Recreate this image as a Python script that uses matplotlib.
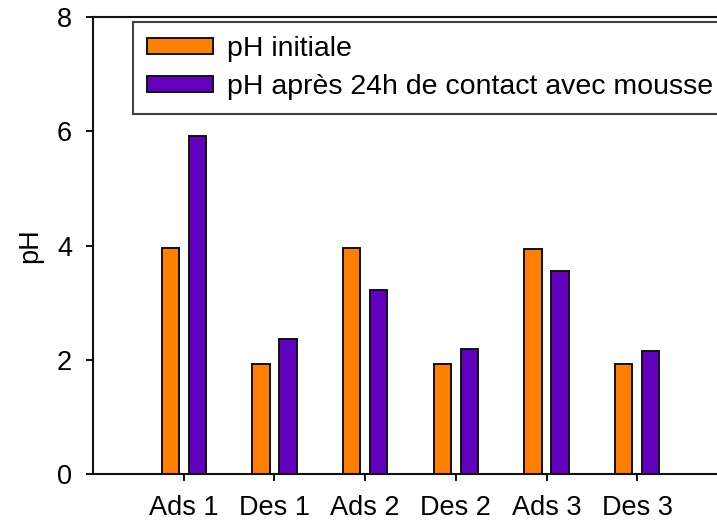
import numpy as np
import matplotlib.pyplot as plt

plt.rcParams['font.family'] = ['Liberation Sans', 'DejaVu Sans']

categories = ['Ads 1', 'Des 1', 'Ads 2', 'Des 2', 'Ads 3', 'Des 3']
ph_initiale = [3.95, 1.93, 3.95, 1.93, 3.94, 1.93]
ph_apres = [5.91, 2.37, 3.23, 2.19, 3.55, 2.16]

x = np.arange(len(categories))
w = 0.19
off = 0.149

fig = plt.figure(figsize=(7.17, 5.29), dpi=100)
# x axis continues past the right edge of the figure (xlim -1..6)
ax = fig.add_axes([93 / 717, (529 - 474.3) / 529, 635 / 717, 457.6 / 529])

ax.bar(x - off, ph_initiale, w, color='#FF8000', edgecolor='#111111', linewidth=1.4,
       label='pH initiale')
ax.bar(x + off, ph_apres, w, color='#6200C0', edgecolor='#111111', linewidth=1.4,
       label='pH après 24h de contact avec mousse')

ax.set_xlim(-1, 6)
ax.set_ylim(0, 8)
ax.set_yticks([0, 2, 4, 6, 8])
ax.set_xticks(x)
ax.set_xticklabels(categories)
ax.set_ylabel('pH', fontsize=19.5, labelpad=10)

ax.tick_params(axis='both', labelsize=19.5, width=1.4, length=5, color='#111111')
ax.tick_params(axis='x', pad=10)
ax.tick_params(axis='y', pad=10)
for s in ax.spines.values():
    s.set_linewidth(1.5)
    s.set_color('#111111')

leg = ax.legend(loc='upper left', bbox_to_anchor=(40 / 635, 1 - 5 / 457.6),
                fontsize=20.5, frameon=True, fancybox=False, edgecolor='#111111',
                handlelength=2.3, handleheight=0.5, handletextpad=0.5,
                borderpad=0.5, labelspacing=0.42, borderaxespad=0)
leg.get_frame().set_linewidth(1.5)
for h in leg.legend_handles:
    h.set_linewidth(1.4)

plt.savefig('out.png', dpi=100)
